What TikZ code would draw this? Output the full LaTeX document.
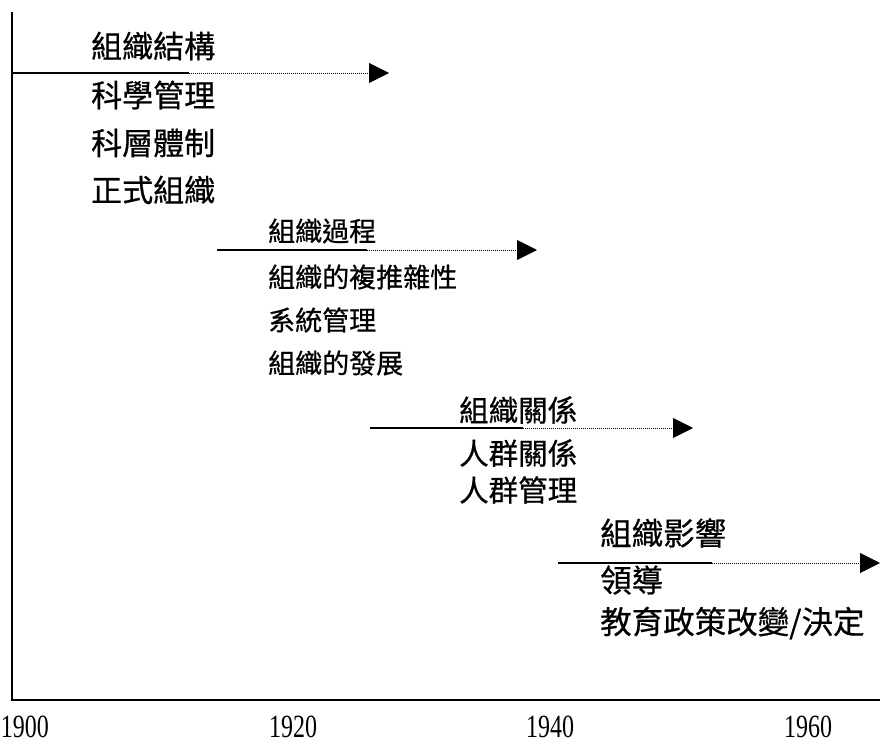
\documentclass[tikz,border=0pt]{standalone}
\usepackage{fontspec}
\setmainfont{Liberation Serif}
\newfontfamily\cjk[FakeBold=0.6]{Noto Sans CJK TC}
\usetikzlibrary{arrows.meta}
\tikzset{
  lbl/.style={anchor=west, inner sep=0pt, font=\cjk\fontsize{#1}{#1}\selectfont},
  yr/.style={anchor=base, inner sep=0pt, font=\fontsize{24}{24}\selectfont, yscale=1.35},
  axis/.style={line width=1.5pt},
  solidpart/.style={line width=1.5pt},
  dotpart/.style={line width=0.9pt, dash pattern=on 1pt off 1pt, -{Triangle[length=20pt,width=20pt]}},
}
\begin{document}
\begin{tikzpicture}[x=1pt,y=-1pt]
\fill[white] (0,0) rectangle (880,745);
\useasboundingbox (0,0) rectangle (880,745);
% axes
\coordinate (top) at (12,12);
\coordinate (origin) at (12,700);
\coordinate (right) at (880,700);
\draw[axis] (top) -- (origin) -- (right);
% years
\node[yr] (y1900) at (25,737) {1900};
\node[yr] (y1920) at (293,737) {1920};
\node[yr] (y1940) at (550,737) {1940};
\node[yr] (y1960) at (808,737) {1960};
% group 1
\node[lbl=31] (g1a) at (91,46) {組織結構};
\node[lbl=31] (g1b) at (91,95) {科學管理};
\node[lbl=31] (g1c) at (91,143) {科層體制};
\node[lbl=31] (g1d) at (91,190) {正式組織};
\coordinate (a1s) at (12,73);
\coordinate (a1m) at (189,73);
\coordinate (a1e) at (389,73);
\draw[solidpart] (a1s) -- (a1m);
\draw[dotpart] (a1m) -- (a1e);
% group 2
\node[lbl=27] (g2a) at (268,231) {組織過程};
\node[lbl=27] (g2b) at (268,277) {組織的複推雜性};
\node[lbl=27] (g2c) at (268,320) {系統管理};
\node[lbl=27] (g2d) at (268,363) {組織的發展};
\coordinate (a2s) at (217,250);
\coordinate (a2m) at (367,250);
\coordinate (a2e) at (537,250);
\draw[solidpart] (a2s) -- (a2m);
\draw[dotpart] (a2m) -- (a2e);
% group 3
\node[lbl=29.5] (g3a) at (459,410) {組織關係};
\node[lbl=29.5] (g3b) at (459,453) {人群關係};
\node[lbl=29.5] (g3c) at (459,490) {人群管理};
\coordinate (a3s) at (370,428);
\coordinate (a3m) at (523,428);
\coordinate (a3e) at (693,428);
\draw[solidpart] (a3s) -- (a3m);
\draw[dotpart] (a3m) -- (a3e);
% group 4
\node[lbl=31.5] (g4a) at (600,533) {組織影響};
\node[lbl=31.5] (g4b) at (600,580) {領導};
\node[lbl=31.5] (g4c) at (600,623) {教育政策改變/決定};
\coordinate (a4s) at (558,563);
\coordinate (a4m) at (712,563);
\coordinate (a4e) at (880,563);
\draw[solidpart] (a4s) -- (a4m);
\draw[dotpart] (a4m) -- (a4e);
\end{tikzpicture}
\end{document}
